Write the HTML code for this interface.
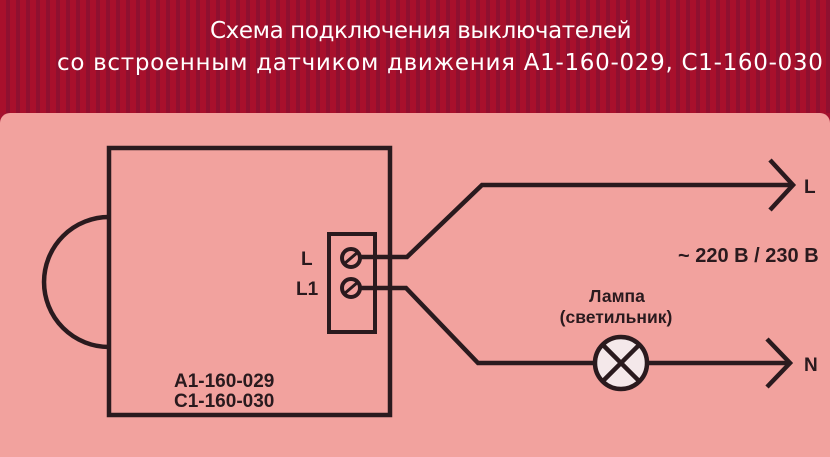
<!DOCTYPE html>
<html><head><meta charset="utf-8"><style>
html,body{margin:0;padding:0;}
body{width:830px;height:457px;overflow:hidden;position:relative;background:#a3122f;font-family:"Liberation Sans",sans-serif;}
.hdr{position:absolute;left:0;top:0;width:830px;height:113px;background:repeating-linear-gradient(90deg,#a8102c 0 6px,#8f1030 6px 10px);}
.t{position:absolute;color:#fff;font-size:24px;white-space:nowrap;font-family:"DejaVu Sans","Liberation Sans",sans-serif;}
.panel{position:absolute;left:0;top:113px;width:830px;height:344px;background:#f2a29e;border-radius:10px 10px 0 0;}
svg{position:absolute;left:0;top:0}
</style></head><body>
<div class="hdr"></div>
<div class="t" style="left:210px;top:18px;font-size:23px;letter-spacing:-0.4px">Схема подключения выключателей</div>
<div class="t" style="left:57px;top:50px;font-size:23px;letter-spacing:0.7px">со встроенным датчиком движения А1-160-029, С1-160-030</div>
<div class="panel"></div>
<svg width="830" height="457" viewBox="0 0 830 457">
<g fill="none" stroke="#2a1a1e" stroke-width="4.5">
<rect x="109" y="148" width="281" height="267"/>
<path d="M109 217 A65 65 0 0 0 109 347"/>
<rect x="329" y="234" width="46" height="98" stroke-width="4"/>
<circle cx="351" cy="258" r="9" stroke-width="4"/>
<circle cx="351" cy="288" r="9" stroke-width="4"/>
<path d="M344 264 L358 252 M344 294 L358 282" stroke-width="3"/>
<path d="M360 257 L407 257 L482 185 L793 185"/>
<path d="M770 160 L793 185 L770 210"/>
<path d="M360 288 L406 288 L478 363 L594 363 M648 363 L790 363"/>
<path d="M767 339 L790 363 L767 387"/>
</g>
<circle cx="621" cy="363" r="26" fill="#f4e8ea" stroke="#2a1a1e" stroke-width="4.5"/>
<path d="M603 345 L639 381 M639 345 L603 381" stroke="#2a1a1e" stroke-width="4.5"/>
<g fill="#2a1a1e" font-family="Liberation Sans" font-weight="bold" font-size="19">
<text x="301" y="265">L</text>
<text x="296" y="295">L1</text>
<text x="804" y="193">L</text>
<text x="804" y="371">N</text>
<text x="678" y="262" font-size="20">~ 220 В / 230 В</text>
<text x="617" y="302" text-anchor="middle" font-size="17.5">Лампа</text>
<text x="616" y="323" text-anchor="middle" font-size="17.5">(светильник)</text>
<text x="174" y="387">A1-160-029</text>
<text x="174" y="407">C1-160-030</text>
</g>
</svg>
</body></html>
